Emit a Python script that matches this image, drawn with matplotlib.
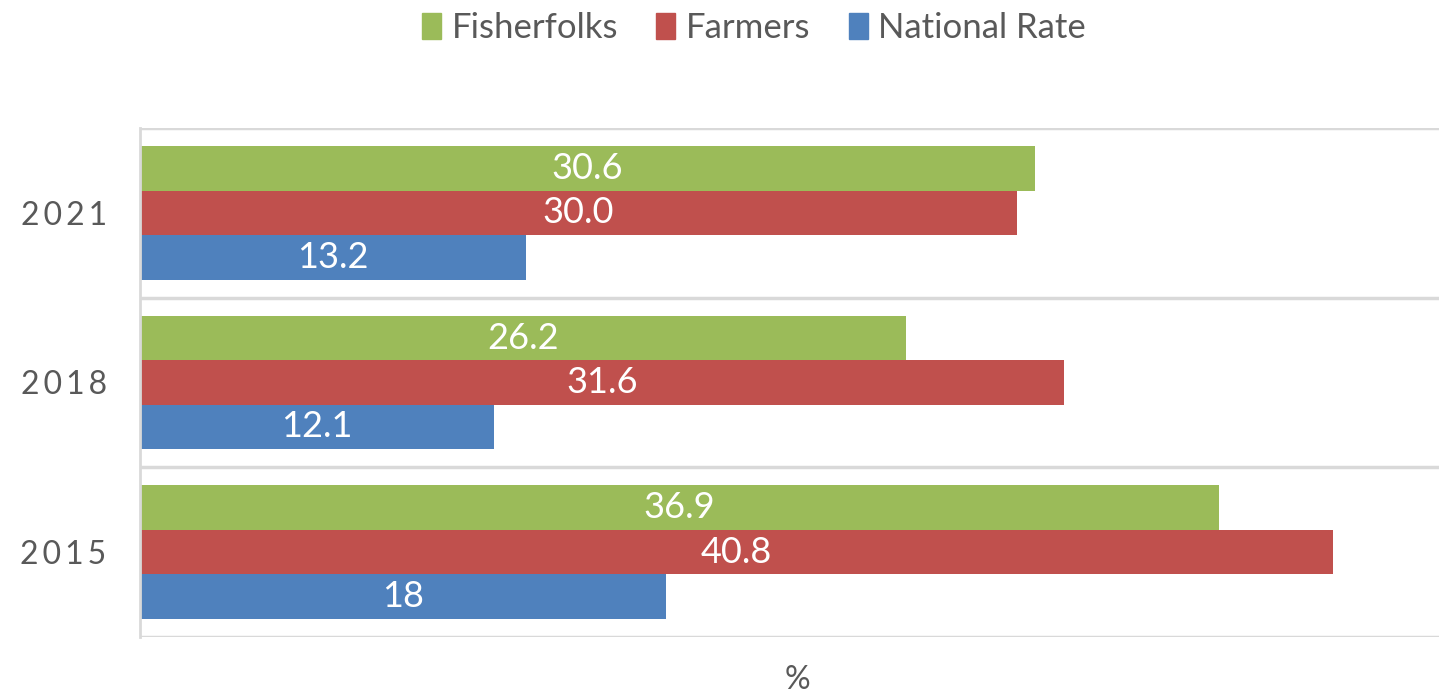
import matplotlib.pyplot as plt
from matplotlib.patches import Patch
import numpy as np

# data
years = ['2015', '2018', '2021']
fisherfolks = [36.9, 26.2, 30.6]
farmers = [40.8, 31.6, 30.0]
national = [18, 12.1, 13.2]
fisher_lbl = ['36.9', '26.2', '30.6']
farmer_lbl = ['40.8', '31.6', '30.0']
nat_lbl = ['18', '12.1', '13.2']

green = '#9BBB59'
red = '#C0504D'
blue = '#4F81BD'

plt.rcParams['font.family'] = ['Lato', 'DejaVu Sans']

fig = plt.figure(figsize=(14.39, 6.93), dpi=100)
ax = fig.add_axes([140 / 1439, 1 - 637 / 693, 1 - 140 / 1439, (637 - 128) / 693])

y = np.arange(len(years))
h = 0.262
series = [(fisherfolks, fisher_lbl, green, h), (farmers, farmer_lbl, red, 0), (national, nat_lbl, blue, -h)]
for vals, lbls, col, off in series:
    bars = ax.barh(y + off, vals, height=h, color=col)
    ax.bar_label(bars, labels=lbls, label_type='center', color='white', fontsize=26)

ax.set_xlim(0, 44.43)
ax.set_ylim(-0.5, 2.5)
ax.set_yticks(y)
ax.set_yticklabels(['\u2009'.join(s) for s in years], fontsize=23, color='#595959')
ax.tick_params(axis='y', length=0, pad=24)
ax.set_xticks([])
for b in [-0.5, 0.5, 1.5, 2.5]:
    ax.axhline(b, color='#D9D9D9', lw=2.5, zorder=0)
for s in ['top', 'right', 'bottom']:
    ax.spines[s].set_visible(False)
ax.spines['left'].set_color('#D9D9D9')
ax.spines['left'].set_linewidth(2)

fig.text(797 / 1439, 1 - 680 / 693, '%', ha='center', va='center', fontsize=23, color='#595959')

handles = [Patch(color=green, label='Fisherfolks'), Patch(color=red, label='Farmers'), Patch(color=blue, label='National Rate')]
fig.legend(handles=handles, loc='center', bbox_to_anchor=(754 / 1439, 1 - 28 / 693), ncol=3, frameon=False,
           fontsize=25, labelcolor='#595959', handlelength=0.55, handleheight=0.8, handletextpad=0.3, columnspacing=1.1)

fig.savefig('out.png', dpi=100)
